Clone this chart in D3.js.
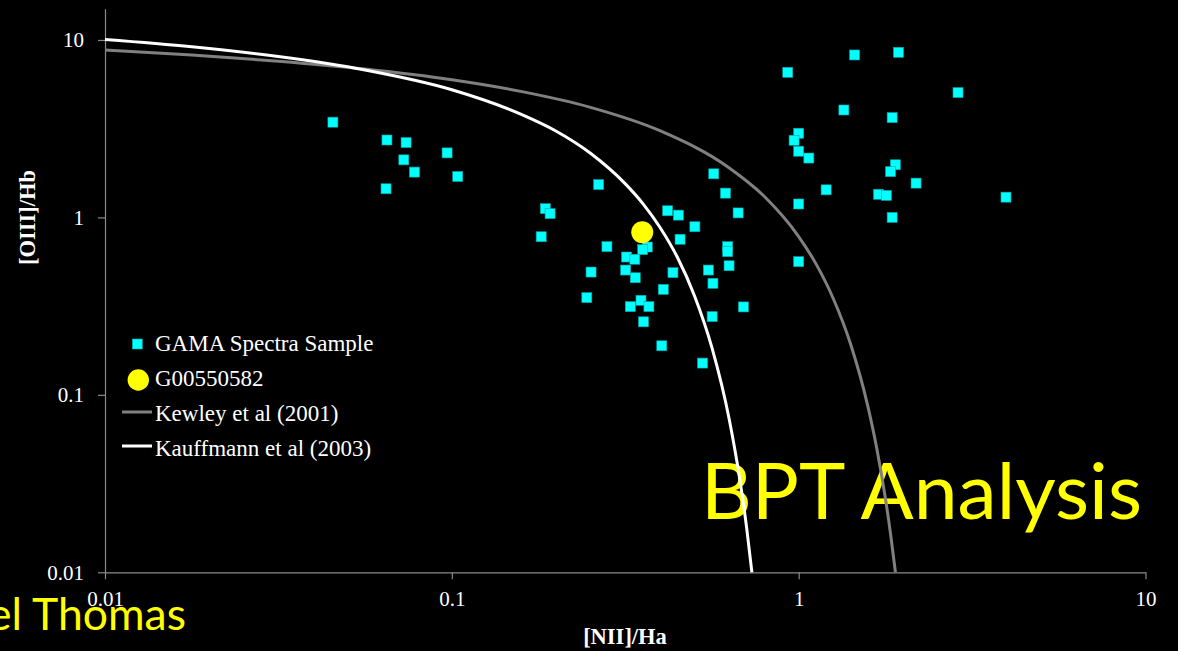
<!DOCTYPE html>
<html>
<head>
<meta charset="utf-8">
<script src="https://cdn.jsdelivr.net/npm/d3@7"></script>
<style>
  html, body { margin: 0; padding: 0; background: #000; }
  svg { display: block; }
</style>
</head>
<body>
<svg id="chart" width="1178" height="651"></svg>
<script>
// GAMA spectra sample: [NII]/Ha and [OIII]/Hb line ratios
const gamaNII = [
  0.0454, 0.0650, 0.0738, 0.0727, 0.0780, 0.0646, 0.0969, 0.104,
  0.186, 0.192, 0.181, 0.265, 0.419, 0.450, 0.502, 0.455,
  0.569, 0.615, 0.669, 0.624, 0.624, 0.630, 0.549, 0.566,
  0.563, 0.693, 0.528, 0.403, 0.407, 0.434, 0.366, 0.355,
  0.280, 0.319, 0.337, 0.317, 0.338, 0.252, 0.245, 0.327,
  0.351, 0.370, 0.357, 0.930, 1.45, 1.94, 2.88, 1.35,
  1.86, 1.00, 0.970, 1.00, 1.07, 1.20, 1.00, 1.90,
  1.84, 2.18, 1.70, 1.79, 1.86, 3.96, 1.00
];
const gamaOIII = [
  3.44, 2.73, 2.64, 2.11, 1.80, 1.45, 2.31, 1.70,
  1.12, 1.05, 0.778, 1.53, 1.09, 1.03, 0.886, 0.753,
  1.76, 1.37, 1.06, 0.684, 0.641, 0.534, 0.505, 0.425,
  0.276, 0.313, 0.151, 0.189, 0.393, 0.488, 0.681, 0.658,
  0.684, 0.598, 0.581, 0.505, 0.457, 0.492, 0.353, 0.314,
  0.341, 0.314, 0.258, 6.57, 8.23, 8.52, 5.05, 4.03,
  3.65, 2.98, 2.72, 2.36, 2.16, 1.43, 1.19, 1.98,
  1.81, 1.56, 1.35, 1.33, 1.00, 1.30, 0.563
];

// Highlighted galaxy
const targetName = "G00550582";
const targetNII = [0.354];
const targetOIII = [0.824];

// Kewley et al (2001) maximum-starburst line
const kewleyNII = [0.01, 0.0178, 0.0316, 0.0562, 0.1, 0.158, 0.251, 0.398, 0.631, 0.794,
                   1.0, 1.122, 1.259, 1.413, 1.585, 1.679, 1.778, 1.841, 1.901];
const kewleyOIII = [8.77, 8.23, 7.59, 6.85, 5.96, 5.13, 4.17, 3.08, 1.90, 1.32,
                    0.780, 0.547, 0.348, 0.192, 0.0852, 0.0501, 0.0262, 0.0164, 0.0100];

// Kauffmann et al (2003) star-forming boundary
const kauffNII = [0.01, 0.0178, 0.0316, 0.0562, 0.1, 0.158, 0.1995, 0.251, 0.316, 0.355,
                  0.398, 0.447, 0.501, 0.562, 0.631, 0.676, 0.708, 0.733];
const kauffOIII = [10.06, 9.15, 8.06, 6.77, 5.24, 3.82, 3.07, 2.30, 1.55, 1.20,
                   0.880, 0.596, 0.361, 0.185, 0.0724, 0.0337, 0.0178, 0.0100];

const tickValues = [0.01, 0.1, 1, 10];
const tickLabels = ["0.01", "0.1", "1", "10"];
const legendLabels = ["GAMA Spectra Sample", targetName, "Kewley et al (2001)", "Kauffmann et al (2003)"];

const svg = d3.select("#chart");
const serif = "'Liberation Serif', 'Times New Roman', serif";
const sans = "Lato, 'Open Sans', sans-serif";

// slide text sits underneath the chart
svg.append("text")
  .attr("x", 701).attr("y", 519)
  .attr("font-family", sans).attr("font-size", 78)
  .attr("textLength", 441).attr("lengthAdjust", "spacingAndGlyphs")
  .attr("fill", "#ffff00")
  .text("BPT Analysis");

svg.append("text")
  .attr("x", -12).attr("y", 630)
  .attr("font-family", sans).attr("font-size", 43.5)
  .attr("textLength", 198).attr("lengthAdjust", "spacingAndGlyphs")
  .attr("fill", "#ffff00")
  .text("el Thomas");

// scales
const x = d3.scaleLog().domain([0.01, 10]).range([105, 1145.5]);
const y = d3.scaleLog().domain([0.01, 15]).range([572.3, 8.7]);

// axes
const axisColor = "#8a8a8a";
const xAxis = svg.append("g")
  .attr("transform", `translate(0,${y(0.01)})`)
  .call(d3.axisBottom(x).tickValues(tickValues).tickSize(7).tickSizeOuter(0)
    .tickFormat((d, i) => tickLabels[i]));
const yAxis = svg.append("g")
  .attr("transform", `translate(${x(0.01)},0)`)
  .call(d3.axisLeft(y).tickValues(tickValues).tickSize(7).tickSizeOuter(0)
    .tickFormat((d, i) => tickLabels[i]));

[xAxis, yAxis].forEach(g => {
  g.select(".domain").attr("stroke", axisColor).attr("stroke-width", 1.2);
  g.selectAll(".tick line").attr("stroke", axisColor).attr("stroke-width", 1.2);
  g.selectAll(".tick text")
    .attr("fill", "#ffffff")
    .attr("font-family", serif)
    .attr("font-size", 21);
});
xAxis.selectAll(".tick text").attr("y", 34).attr("dy", 0);
yAxis.selectAll(".tick text").attr("x", -21).attr("dy", "0.33em");

// axis titles
svg.append("text")
  .attr("x", 625).attr("y", 644)
  .attr("text-anchor", "middle")
  .attr("font-family", serif).attr("font-weight", "bold").attr("font-size", 22.5)
  .attr("fill", "#ffffff")
  .text("[NII]/Ha");

svg.append("text")
  .attr("transform", "translate(35,217.5) rotate(-90)")
  .attr("text-anchor", "middle")
  .attr("font-family", serif).attr("font-weight", "bold").attr("font-size", 22.5)
  .attr("fill", "#ffffff")
  .text("[OIII]/Hb");

// sample points
const sample = gamaNII.map((v, i) => ({ nii: v, oiii: gamaOIII[i] }));
const sq = 10;
svg.append("g").selectAll("rect")
  .data(sample)
  .join("rect")
  .attr("x", d => x(d.nii) - sq / 2)
  .attr("y", d => y(d.oiii) - sq / 2)
  .attr("width", sq).attr("height", sq)
  .attr("fill", "#00ffff")
  .attr("stroke", "#00a6a6").attr("stroke-width", 0.6);

// highlighted galaxy
svg.append("g").selectAll("circle")
  .data(targetNII.map((v, i) => ({ nii: v, oiii: targetOIII[i] })))
  .join("circle")
  .attr("cx", d => x(d.nii))
  .attr("cy", d => y(d.oiii))
  .attr("r", 11)
  .attr("fill", "#ffff00");

// demarcation curves
const line = d3.line()
  .x(d => x(d[0]))
  .y(d => y(d[1]))
  .curve(d3.curveMonotoneX);

svg.append("path")
  .datum(kewleyNII.map((v, i) => [v, kewleyOIII[i]]))
  .attr("d", line)
  .attr("fill", "none")
  .attr("stroke", "#808080").attr("stroke-width", 3);

svg.append("path")
  .datum(kauffNII.map((v, i) => [v, kauffOIII[i]]))
  .attr("d", line)
  .attr("fill", "none")
  .attr("stroke", "#ffffff").attr("stroke-width", 3);

// legend
const legend = svg.append("g").attr("font-family", serif).attr("font-size", 23).attr("fill", "#ffffff");
const rowY = [344, 380, 412, 446];
const baseY = [351, 386, 421, 456];
legend.append("rect")
  .attr("x", 137.3 - 5).attr("y", rowY[0] - 5).attr("width", 10).attr("height", 10)
  .attr("fill", "#00ffff").attr("stroke", "#00a6a6").attr("stroke-width", 0.6);
legend.append("circle")
  .attr("cx", 138.3).attr("cy", rowY[1]).attr("r", 10.7).attr("fill", "#ffff00");
legend.append("line")
  .attr("x1", 122).attr("x2", 152).attr("y1", rowY[2]).attr("y2", rowY[2])
  .attr("stroke", "#808080").attr("stroke-width", 3);
legend.append("line")
  .attr("x1", 122).attr("x2", 152).attr("y1", rowY[3]).attr("y2", rowY[3])
  .attr("stroke", "#ffffff").attr("stroke-width", 3);
legend.selectAll("text.lbl")
  .data(legendLabels)
  .join("text")
  .attr("class", "lbl")
  .attr("x", 155)
  .attr("y", (d, i) => baseY[i])
  .text(d => d);
</script>
</body>
</html>
